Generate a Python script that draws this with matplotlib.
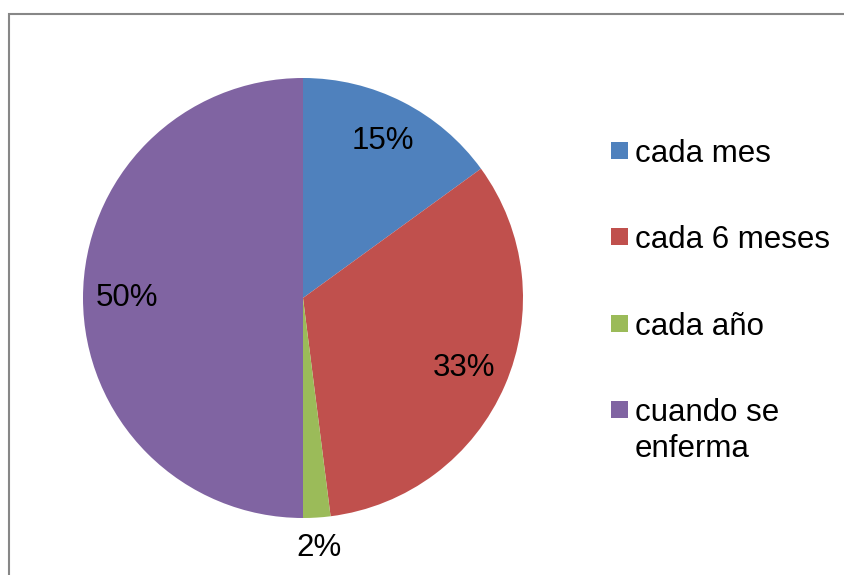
import numpy as np
import matplotlib.pyplot as plt
from matplotlib.patches import Rectangle

# frecuencia de visitas
categorias = ['cada mes', 'cada 6 meses', 'cada año', 'cuando se\nenferma']
porcentajes = [15, 33, 2, 50]
colores = ['#4F81BD', '#C0504D', '#9BBB59', '#8064A2']

W, H = 844, 575
plt.rcParams['font.family'] = ['Liberation Sans', 'DejaVu Sans']
fs = 22.5

fig = plt.figure(figsize=(W / 100, H / 100), dpi=100)

def px(x, y):
    # pixel coords (from top-left) to figure fraction
    return x / W, 1 - y / H

# marco gris del grafico
fig.patches.append(Rectangle(px(9, 600), (W + 20) / W, (600 - 14) / H,
                             transform=fig.transFigure, fill=False,
                             edgecolor='#878787', linewidth=1.5))

cx, cy, r = 303, 298, 220
ax = fig.add_axes([(cx - r) / W, (H - cy - r) / H, 2 * r / W, 2 * r / H])
wedges, textos, autotextos = ax.pie(
    porcentajes, colors=colores, startangle=90, counterclock=False,
    autopct=lambda p: f'{p:.0f}%', pctdistance=0.8,
    wedgeprops=dict(linewidth=0), textprops=dict(fontsize=fs, color='black'))
ax.set_xlim(-1, 1)
ax.set_ylim(-1, 1)
ax.set_aspect('equal')
ax.axis('off')

# etiqueta pequeña fuera del pastel
for w, t, p in zip(wedges, autotextos, porcentajes):
    if p < 5:
        ang = np.deg2rad((w.theta1 + w.theta2) / 2)
        t.set_position((1.14 * np.cos(ang), 1.14 * np.sin(ang)))

# leyenda a mano
base0, paso, interlinea = 162, 86.3, 36
for i, (cat, col) in enumerate(zip(categorias, colores)):
    b = base0 + i * paso
    fig.patches.append(Rectangle(px(611, b - 3), 17 / W, 17 / H,
                                 transform=fig.transFigure, facecolor=col,
                                 edgecolor='none'))
    for j, linea in enumerate(cat.split('\n')):
        fig.text(*px(635, b + j * interlinea), linea, fontsize=fs,
                 va='baseline', ha='left')

fig.savefig('out.png', dpi=100)
